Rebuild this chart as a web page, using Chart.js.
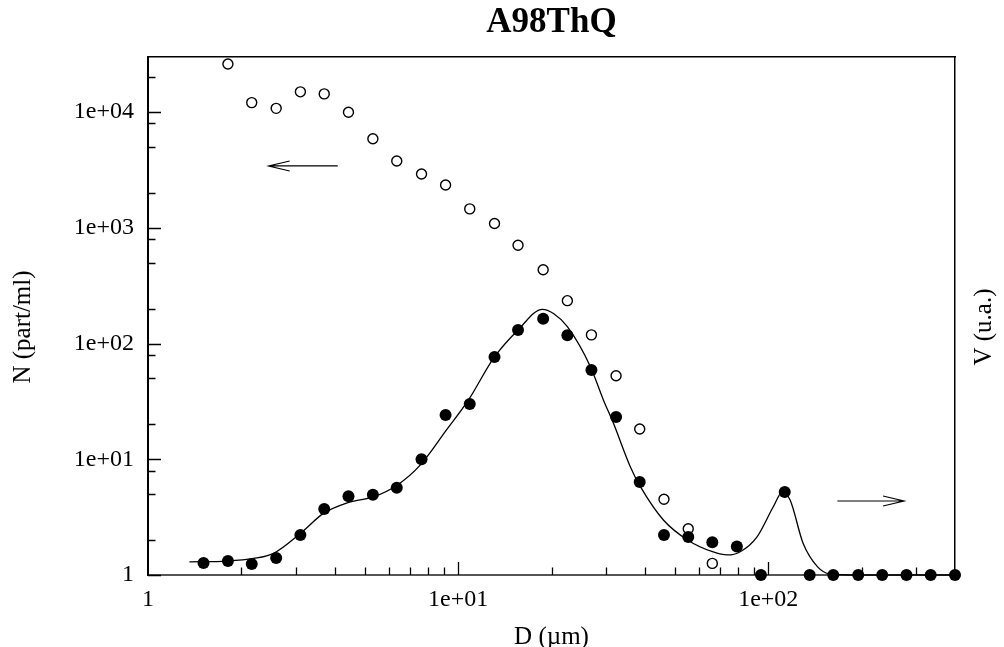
<!DOCTYPE html>
<html>
<head>
<meta charset="utf-8">
<script src="https://cdn.jsdelivr.net/npm/chart.js@4/dist/chart.umd.min.js"></script>
<style>
  html, body { margin: 0; padding: 0; background: #fff; }
  canvas { display: block; }
</style>
</head>
<body>
<canvas id="c" width="1004" height="647"></canvas>
<script>
// ---- data ----
const chartTitle = 'A98ThQ';
const xTitle = 'D (\u00b5m)';
const yTitle = 'N (part/ml)';
const y2Title = 'V (u.a.)';

// open circles: number distribution N (left axis)
const nD = [1.81, 2.16, 2.59, 3.10, 3.70, 4.43, 5.31, 6.34, 7.62, 9.11, 10.9, 13.1, 15.6, 18.8, 22.5, 26.9, 32.3, 38.5, 46.1, 55.2, 66.0];
const nValues = [26100, 12100, 10800, 15000, 14400, 9980, 5900, 3790, 2920, 2350, 1460, 1090, 707, 435, 235, 119, 52.8, 18.3, 4.51, 2.51, 1.26];

// filled circles: volume distribution V
const vD = [1.51, 1.81, 2.16, 2.59, 3.10, 3.70, 4.43, 5.31, 6.34, 7.62, 9.11, 10.9, 13.1, 15.6, 18.8, 22.5, 26.9, 32.3, 38.5, 46.1, 55.2, 66.0, 79.2, 94.7, 113, 136, 162, 195, 233, 279, 334, 400];
const vValues = [1.27, 1.32, 1.245, 1.40, 2.22, 3.72, 4.79, 4.94, 5.68, 10.0, 24.1, 30.1, 76.6, 131, 164, 118, 59.1, 23.2, 6.37, 2.22, 2.13, 1.92, 1.76, 1.0, 5.22, 1.0, 1.0, 1.0, 1.0, 1.0, 1.0, 1.0];

// fitted curve
const fitD = [1.36, 1.80, 2.19, 2.54, 3.10, 3.68, 4.39, 5.35, 6.37, 7.57, 9.11, 10.8, 13.0, 15.6, 18.7, 20.3, 22.5, 26.7, 29.4, 31.7, 35.9, 38.7, 45.9, 54.9, 66.1, 73.9, 81.2, 92.0, 103.8, 110.9, 117.6, 129.5, 144, 158, 194, 400];
const fitValues = [1.30, 1.32, 1.39, 1.54, 2.29, 3.41, 4.21, 4.75, 6.00, 9.0, 17.5, 32.6, 74.6, 131, 198, 182, 140, 63.2, 32.6, 20.4, 8.64, 5.80, 2.99, 2.01, 1.59, 1.49, 1.59, 2.14, 3.89, 5.18, 4.45, 1.88, 1.18, 1.02, 1.0, 1.0];

// axes
const xMin = 1, xMax = 400;
const yMin = 1, yMax = 30000;
const xMajorTicks = [1, 10, 100];
const xTickLabels = ['1', '1e+01', '1e+02'];
const yMajorTicks = [1, 10, 100, 1000, 10000];
const yTickLabels = ['1', '1e+01', '1e+02', '1e+03', '1e+04'];
const xMinorMultipliers = [2, 3, 4, 5, 6, 7, 8, 9];
const yMinorMultipliers = [2, 5, 8];

// arrows (data coordinates: from -> to)
const arrowN = [[4.09, 3430], [2.45, 3430]];
const arrowV = [[167, 4.36], [274, 4.36]];

// ---- chart ----
const FONT = "'Liberation Serif', 'Times New Roman', serif";
const pts = (xs, ys) => xs.map((x, i) => ({ x: x, y: ys[i] }));

const framePlugin = {
  id: 'frame',
  beforeDatasetsDraw(chart) {
    const { ctx, chartArea: a, scales: { x, y } } = chart;
    ctx.save();
    ctx.strokeStyle = '#000';
    ctx.lineWidth = 1.3;
    ctx.beginPath();
    yMajorTicks.forEach(v => {
      const py = Math.round(y.getPixelForValue(v)) + 0.5;
      ctx.moveTo(a.left, py); ctx.lineTo(a.left + 13, py);
      yMinorMultipliers.forEach(m => {
        const val = v * m;
        if (val > yMax) return;
        const p = Math.round(y.getPixelForValue(val)) + 0.5;
        ctx.moveTo(a.left, p); ctx.lineTo(a.left + 7.5, p);
      });
    });
    xMajorTicks.forEach(v => {
      const px = Math.round(x.getPixelForValue(v)) + 0.5;
      if (v > xMin) { ctx.moveTo(px, a.bottom); ctx.lineTo(px, a.bottom - 13); }
      xMinorMultipliers.forEach(m => {
        const val = v * m;
        if (val >= xMax) return;
        const p = Math.round(x.getPixelForValue(val)) + 0.5;
        ctx.moveTo(p, a.bottom); ctx.lineTo(p, a.bottom - 7.5);
      });
    });
    ctx.stroke();
    ctx.restore();
  },
  afterDatasetsDraw(chart) {
    const { ctx, chartArea: a, scales: { x, y } } = chart;
    ctx.save();
    ctx.strokeStyle = '#000';
    ctx.lineWidth = 1.2;
    [arrowN, arrowV].forEach(([from, to]) => {
      const x0 = x.getPixelForValue(from[0]), y0 = y.getPixelForValue(from[1]);
      const x1 = x.getPixelForValue(to[0]), y1 = y.getPixelForValue(to[1]);
      const dir = Math.sign(x1 - x0);
      ctx.beginPath();
      ctx.moveTo(x0, y0); ctx.lineTo(x1, y1);
      ctx.moveTo(x1 - dir * 21, y1 - 5); ctx.lineTo(x1, y1); ctx.lineTo(x1 - dir * 21, y1 + 5);
      ctx.stroke();
    });
    // vertical axis titles (both read bottom-to-top)
    ctx.fillStyle = '#000';
    ctx.font = '25px ' + FONT;
    ctx.textAlign = 'center';
    ctx.textBaseline = 'middle';
    const cy = (a.top + a.bottom) / 2 + 11;
    [[yTitle, 23], [y2Title, 984]].forEach(([t, cx]) => {
      ctx.save();
      ctx.translate(cx, cy);
      ctx.rotate(-Math.PI / 2);
      ctx.fillText(t, 0, 0);
      ctx.restore();
    });
    ctx.restore();
  }
};

new Chart(document.getElementById('c'), {
  type: 'scatter',
  data: {
    datasets: [
      {
        label: 'V',
        data: pts(vD, vValues),
        pointStyle: 'circle',
        pointRadius: 6,
        pointBackgroundColor: '#000',
        pointBorderColor: '#000',
        pointBorderWidth: 0,
        showLine: false,
        clip: false,
        order: 0
      },
      {
        label: 'N',
        data: pts(nD, nValues),
        pointStyle: 'circle',
        pointRadius: 5,
        pointBackgroundColor: 'rgba(0,0,0,0)',
        pointBorderColor: '#000',
        pointBorderWidth: 1.4,
        showLine: false,
        clip: false,
        order: 1
      },
      {
        label: 'fit',
        data: pts(fitD, fitValues),
        showLine: true,
        borderColor: '#000',
        borderWidth: 1.3,
        pointRadius: 0,
        cubicInterpolationMode: 'monotone',
        fill: false,
        clip: false,
        order: 2
      }
    ]
  },
  options: {
    responsive: false,
    animation: false,
    devicePixelRatio: 1,
    layout: { padding: 0 },
    plugins: {
      legend: { display: false },
      tooltip: { enabled: false },
      title: {
        display: true,
        fullSize: false,
        text: chartTitle,
        color: '#000',
        font: { family: FONT, size: 35, weight: 'bold' },
        padding: { top: 2, bottom: 0 }
      }
    },
    scales: {
      x: {
        type: 'logarithmic',
        position: 'bottom',
        min: xMin, max: xMax,
        afterBuildTicks: s => { s.ticks = xMajorTicks.map(v => ({ value: v, major: true })); },
        afterFit: s => { s.height = 72; },
        ticks: {
          color: '#000',
          font: { family: FONT, size: 24 },
          padding: 2,
          maxRotation: 0,
          autoSkip: false,
          callback: (v) => xTickLabels[xMajorTicks.indexOf(v)]
        },
        grid: { display: false },
        border: { display: true, color: '#555', width: 2 },
        title: {
          display: true, text: xTitle, color: '#000',
          font: { family: FONT, size: 25 }, padding: { top: 0, bottom: -5 }
        }
      },
      y: {
        type: 'logarithmic',
        position: 'left',
        min: yMin, max: yMax,
        afterBuildTicks: s => { s.ticks = yMajorTicks.map(v => ({ value: v, major: true })); },
        afterFit: s => { s.width = 148; },
        ticks: {
          color: '#000',
          font: { family: FONT, size: 24 },
          padding: 6,
          autoSkip: false,
          callback: (v) => yTickLabels[yMajorTicks.indexOf(v)]
        },
        grid: { display: false },
        border: { display: true, color: '#000', width: 2 }
      },
      y2: {
        type: 'linear',
        position: 'right',
        display: true,
        min: 0, max: 1,
        afterFit: s => { s.width = 49; },
        ticks: { display: false },
        grid: { display: false },
        border: { display: true, color: '#000', width: 1.5 }
      },
      x2: {
        type: 'linear',
        position: 'top',
        display: true,
        min: 0, max: 1,
        afterFit: s => { s.height = 13; },
        ticks: { display: false },
        grid: { display: false },
        border: { display: true, color: '#000', width: 1.5 }
      }
    }
  },
  plugins: [framePlugin]
});
</script>
</body>
</html>
